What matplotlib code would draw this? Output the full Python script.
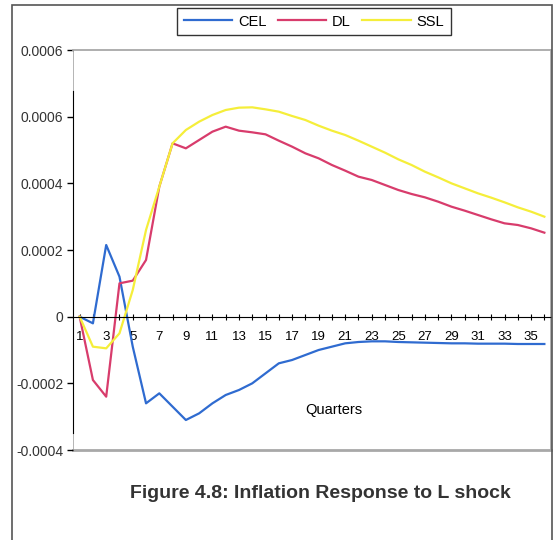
import matplotlib
matplotlib.use('AGG')
import matplotlib.pyplot as plt
from matplotlib.patches import Rectangle

plt.rcParams['font.family'] = ['Liberation Sans', 'DejaVu Sans']

quarters = list(range(1, 37))

cel = [0, -0.00002, 0.000215, 0.00012, -0.00009, -0.00026, -0.00023, -0.00027,
       -0.00031, -0.00029, -0.00026, -0.000235, -0.00022, -0.0002, -0.00017, -0.00014,
       -0.00013, -0.000115, -0.0001, -0.00009, -0.00008, -0.000076, -0.000074, -0.000074,
       -0.000076, -0.000077, -0.000078, -0.000079, -0.00008, -0.00008, -0.000081, -0.000081,
       -0.000081, -0.000082, -0.000082, -0.000082]

dl = [0, -0.00019, -0.00024, 0.0001, 0.000108, 0.00017, 0.00039, 0.00052,
      0.000505, 0.00053, 0.000555, 0.00057, 0.000558, 0.000553, 0.000547, 0.000528,
      0.00051, 0.00049, 0.000475, 0.000455, 0.000438, 0.00042, 0.00041, 0.000395,
      0.00038, 0.000368, 0.000358, 0.000345, 0.00033, 0.000318, 0.000305, 0.000292,
      0.00028, 0.000275, 0.000265, 0.000252]

ssl = [0, -0.00009, -0.000095, -0.00005, 0.00008, 0.00026, 0.00039, 0.00052,
       0.00056, 0.000585, 0.000605, 0.00062, 0.000627, 0.000628, 0.000622, 0.000615,
       0.000602, 0.00059, 0.000573, 0.000558, 0.000545, 0.000528, 0.00051, 0.000492,
       0.000472, 0.000455, 0.000435, 0.000418, 0.0004, 0.000385, 0.00037, 0.000357,
       0.000343, 0.000328, 0.000315, 0.0003]

yticks = [-0.0004, -0.0002, 0, 0.0002, 0.0004, 0.0006, 0.0008]
ytick_labels = ['-0.0004', '-0.0002', '0', '0.0002', '0.0004', '0.0006', '0.0006']
xtick_vals = list(range(1, 37, 2))

fig = plt.figure(figsize=(5.56, 5.40), dpi=100)
ax = fig.add_axes([73 / 556, 90 / 540, 478 / 556, 400 / 540])

ax.plot(quarters, cel, color='#2f6bd0', lw=1.6, label='CEL')
ax.plot(quarters, dl, color='#d83c6c', lw=1.6, label='DL')
ax.plot(quarters, ssl, color='#f5ee3a', lw=1.6, label='SSL')

ax.set_xlim(0.5, 36.5)
ax.set_ylim(-0.0004, 0.0008)

# grey plot-area border, black axes on top
grey = '#a8a8a8'
for side in ['top', 'right']:
    ax.spines[side].set_color(grey)
    ax.spines[side].set_linewidth(1.3)
ax.axhline(-0.0004, color=grey, lw=2, clip_on=False, zorder=1)
ax.axvline(0.5, color=grey, lw=1.2, zorder=1)
ax.spines['left'].set_color('black')
ax.spines['left'].set_bounds(-0.000348, 0.000676)
ax.spines['bottom'].set_position(('data', 0))
ax.spines['bottom'].set_color('black')

ax.set_yticks(yticks)
ax.set_yticklabels(ytick_labels)
ax.tick_params(axis='y', direction='out', length=4, width=1, labelsize=10,
               labelcolor='#333333', pad=3)

ax.set_xticks(xtick_vals)
ax.set_xticks(quarters, minor=True)
ax.tick_params(axis='x', which='both', direction='inout', length=5, width=0.8,
               labelsize=9.5, pad=8)

ax.text(0.546, 0.1, 'Quarters', transform=ax.transAxes, ha='center', va='center',
        fontsize=10.5)

fig.legend(loc='center', bbox_to_anchor=(314 / 556, 1 - 21.5 / 540), ncol=3,
           frameon=True, fancybox=False, edgecolor='black', fontsize=10.5,
           handlelength=3.3, handletextpad=0.4, columnspacing=0.8,
           borderpad=0.45).get_frame().set_linewidth(1)

fig.add_artist(Rectangle((12 / 556, -0.01), 540 / 556, 1.01 - 5 / 540,
                         transform=fig.transFigure, fill=False,
                         edgecolor='#555555', lw=1.2))

fig.text(320 / 556, 1 - 493 / 540, 'Figure 4.8: Inflation Response to L shock',
         ha='center', va='center', fontsize=14, fontweight='bold', color='#333333')

plt.savefig('out.png', dpi=100)
